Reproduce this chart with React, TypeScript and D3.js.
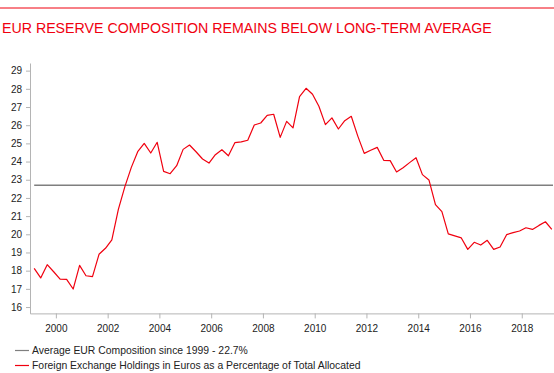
import React, { useEffect, useRef } from 'react';
import * as d3 from 'd3';

// quarterly share of EUR in allocated reserves, 1999Q1 - 2019Q1
const eurShare = [
  18.13, 17.6, 18.33, 17.94, 17.54, 17.52, 16.99, 18.29, 17.72, 17.67,
  18.9, 19.23, 19.69, 21.37, 22.62, 23.68, 24.54, 25.0, 24.47, 25.06,
  23.46, 23.33, 23.77, 24.67, 24.91, 24.54, 24.14, 23.92, 24.38, 24.65,
  24.32, 25.04, 25.08, 25.17, 26.01, 26.12, 26.54, 26.6, 25.33, 26.21,
  25.85, 27.57, 28.03, 27.7, 27.04, 26.03, 26.4, 25.79, 26.25, 26.49,
  25.4, 24.45, 24.62, 24.78, 24.07, 24.05, 23.43, 23.66, 23.94, 24.21,
  23.28, 22.99, 21.63, 21.25, 20.02, 19.91, 19.8, 19.17, 19.56, 19.41,
  19.67, 19.17, 19.3, 19.98, 20.09, 20.18, 20.36, 20.27, 20.49, 20.69,
  20.27,
];
const quarters = eurShare.map((_, i) => new Date(1999, 2 + 3 * i, 1));
const average = 22.7;
const yTicks = [16, 17, 18, 19, 20, 21, 22, 23, 24, 25, 26, 27, 28, 29];
const xTickYears = [2000, 2002, 2004, 2006, 2008, 2010, 2012, 2014, 2016, 2018];
const title = 'EUR RESERVE COMPOSITION REMAINS BELOW LONG-TERM AVERAGE';
const legendLabels = [
  'Average EUR Composition since 1999 - 22.7%',
  'Foreign Exchange Holdings in Euros as a Percentage of Total Allocated',
];

const RED = '#f0000f';
const GREY = '#7f7f7f';
const FONT = '"Liberation Sans", Arial, sans-serif';

const App = () => {
  const ref = useRef<SVGSVGElement>(null);

  useEffect(() => {
    const svg = d3.select(ref.current);
    svg.selectAll('*').remove();

    const x = d3.scaleTime()
      .domain([new Date(1999, 0, 1), new Date(2019, 3, 1)])
      .range([30, 554]);
    const y = d3.scaleLinear()
      .domain([15.65, 29.42])
      .range([313.4, 63]);

    // top rule + title
    svg.append('line')
      .attr('x1', 0).attr('x2', 554).attr('y1', 8).attr('y2', 8)
      .attr('stroke', RED).attr('stroke-width', 1);
    svg.append('text')
      .attr('x', 2).attr('y', 32.5)
      .attr('fill', RED)
      .attr('font-family', FONT)
      .attr('font-size', 14.2)
      .text(title);

    // axes
    const xAxis = svg.append('g')
      .attr('transform', 'translate(0,313.4)')
      .call(d3.axisBottom(x)
        .tickValues(xTickYears.map(yr => new Date(yr, 0, 1)))
        .tickFormat(d3.timeFormat('%Y') as any)
        .tickSize(5).tickSizeOuter(0));
    const yAxis = svg.append('g')
      .attr('transform', 'translate(30,0)')
      .call(d3.axisLeft(y).tickValues(yTicks).tickSize(4).tickSizeOuter(0));

    [xAxis, yAxis].forEach(g => {
      g.select('.domain').attr('stroke', '#b4b4b4');
      g.selectAll('.tick line').attr('stroke', '#b4b4b4');
      g.selectAll('.tick text')
        .attr('fill', '#222')
        .attr('font-family', FONT)
        .attr('font-size', 10);
    });
    xAxis.selectAll('.tick text').attr('dy', '1.05em');
    yAxis.selectAll('.tick text').attr('x', -8);

    // average line
    svg.append('line')
      .attr('x1', x(quarters[0])).attr('x2', 553)
      .attr('y1', y(average)).attr('y2', y(average))
      .attr('stroke', GREY).attr('stroke-width', 1.5);

    // series
    const line = d3.line<number>()
      .x((_, i) => x(quarters[i]))
      .y(d => y(d));
    svg.append('path')
      .datum(eurShare)
      .attr('d', line)
      .attr('fill', 'none')
      .attr('stroke', RED)
      .attr('stroke-width', 1.2)
      .attr('stroke-linejoin', 'round');

    // legend
    const legend = svg.append('g').attr('font-family', FONT).attr('font-size', 10.4);
    [GREY, RED].forEach((c, i) => {
      const ly = 350.5 + i * 15;
      legend.append('line')
        .attr('x1', 15).attr('x2', 29).attr('y1', ly).attr('y2', ly)
        .attr('stroke', c).attr('stroke-width', 1.2);
      legend.append('text')
        .attr('x', 32).attr('y', ly).attr('dy', '0.35em')
        .attr('fill', '#222')
        .text(legendLabels[i]);
    });
  }, []);

  return (
    <svg ref={ref} width={554} height={373}
      style={{ position: 'absolute', left: 0, top: 0, background: '#fff' }} />
  );
};

export default App;
